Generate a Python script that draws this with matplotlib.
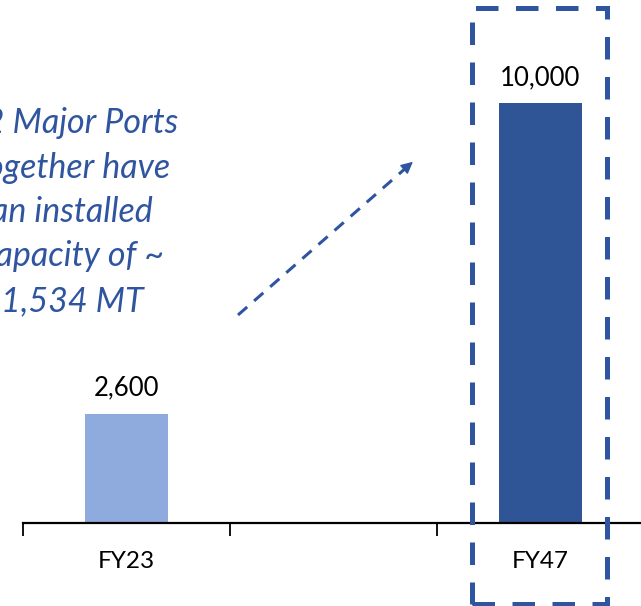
import matplotlib
matplotlib.use("Agg")
import matplotlib.pyplot as plt
from matplotlib.patches import Rectangle, FancyArrowPatch
from matplotlib.lines import Line2D

categories = ["FY23", "", "FY47"]
values = [2600, 0, 10000]
value_labels = ["2,600", "", "10,000"]
bar_colors = ["#8FAADC", "#8FAADC", "#2F5597"]
note_lines = ["12 Major Ports", "together have", "an installed", "capacity of ~", "1,534 MT"]

W, H = 641, 606
fig = plt.figure(figsize=(W / 100, H / 100), dpi=100)
fig.patch.set_facecolor("white")

FONT = ["Lato", "DejaVu Sans"]
BLUE = "#2F55A0"

ax = fig.add_axes([23 / W, 83 / H, 621 / W, 523 / H])
x = list(range(len(categories)))
ax.bar(x, values, width=0.4, color=bar_colors)
ax.set_xlim(-0.5, len(categories) - 0.5)
ax.set_ylim(0, 10000 * 523 / 420)

for xi, v, lab in zip(x, values, value_labels):
    if lab:
        ax.annotate(lab, (xi, v), xytext=(0, 13), textcoords="offset points",
                    ha="center", va="baseline", fontsize=18.5, family=FONT, color="black")

for s in ["top", "right", "left"]:
    ax.spines[s].set_visible(False)
ax.spines["bottom"].set_linewidth(1.6)
ax.spines["bottom"].set_color("black")
ax.set_yticks([])
ax.set_xticks([i - 0.5 for i in range(len(categories) + 1)])
ax.set_xticklabels([])
ax.tick_params(axis="x", which="major", length=9, width=1.3, direction="out", color="black")
ax.set_xticks(x, minor=True)
ax.set_xticklabels(categories, minor=True, fontsize=17.5, family=FONT)
ax.tick_params(axis="x", which="minor", length=0, pad=20)

# note text
fig.text(72 / W, 1 - 212 / H, "\n".join(note_lines), ha="center", va="center",
         fontsize=24.5, style="italic", family=FONT, color=BLUE, linespacing=1.48)

# dashed arrow
x0, y0, x1, y1 = 238, 315, 415, 160
fig.add_artist(Line2D([x0 / W, (x1 - 8) / W], [1 - y0 / H, 1 - (y1 + 7) / H],
                      transform=fig.transFigure, color=BLUE, lw=2.2,
                      linestyle=(0, (4, 3))))
fig.add_artist(FancyArrowPatch(
    ((x1 - 14) / W, 1 - (y1 + 12) / H), (x1 / W, 1 - y1 / H),
    transform=fig.transFigure, arrowstyle="-|>", mutation_scale=18,
    color=BLUE, lw=1))

# dashed highlight rectangle
fig.add_artist(Rectangle((472 / W, 1 - 604 / H), (607 - 472) / W, (604 - 8) / H,
                         transform=fig.transFigure, fill=False, edgecolor=BLUE,
                         lw=3.6, linestyle=(0, (4.5, 3.5))))

fig.savefig("out.png", dpi=100)
